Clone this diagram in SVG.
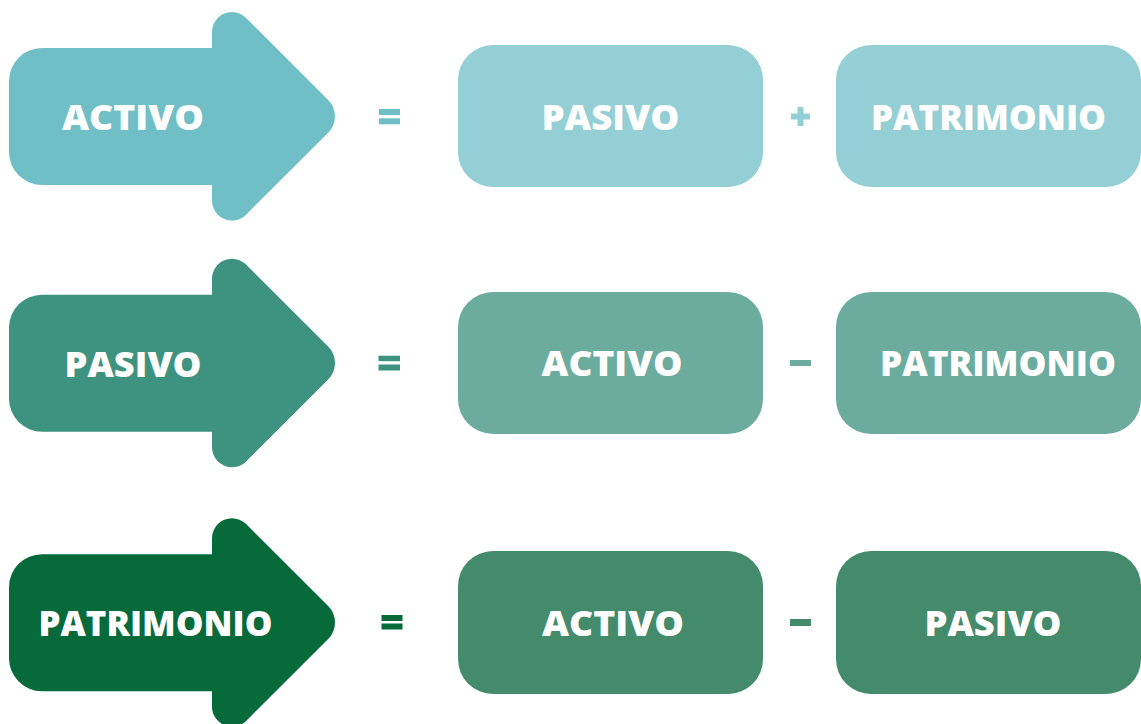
<svg xmlns="http://www.w3.org/2000/svg" width="1141" height="724" viewBox="0 0 1141 724">
<style>
  .lbl { font-family: "Open Sans", "Liberation Sans", sans-serif; font-weight: 800; font-size: 35px; fill: #ffffff; text-anchor: middle; }
  .r1a { fill: #71BFC6; } .r1b { fill: #94CFD6; }
  .r2a { fill: #3D9380; } .r2b { fill: #6BAC9F; }
  .r3a { fill: #076A3B; } .r3b { fill: #438B6B; }
</style>
<defs>
  <path id="arrow" d="M42,48 L212,48 L212,32 A20 20 0 0 1 246.1,17.9 L328.2,99.9 A23.2 23.2 0 0 1 328.2,132.7 L246.1,214.7 A20 20 0 0 1 212,200.6 L212,185 L42,185 A33 33 0 0 1 9,152 L9,81 A33 33 0 0 1 42,48 Z"/>
</defs>

<!-- Row 1 -->
<g id="arrow-activo">
  <use href="#arrow" class="r1a"/>
  <text class="lbl" x="133" y="129.5" textLength="142" lengthAdjust="spacingAndGlyphs">ACTIVO</text>
</g>
<g id="op-eq-1" class="r1a">
  <rect x="379" y="109" width="21" height="6"/>
  <rect x="379" y="118.3" width="21" height="6"/>
</g>
<g id="box-pasivo-1">
  <rect class="r1b" x="458" y="45" width="305" height="142" rx="35"/>
  <text class="lbl" x="610.5" y="129.5" textLength="138" lengthAdjust="spacingAndGlyphs">PASIVO</text>
</g>
<g id="op-plus-1" class="r1b">
  <rect x="791" y="113.5" width="19" height="6"/>
  <rect x="797.5" y="107" width="6" height="19"/>
</g>
<g id="box-patrimonio-1">
  <rect class="r1b" x="836" y="45" width="305" height="142" rx="35"/>
  <text class="lbl" x="988.5" y="129.5" textLength="235" lengthAdjust="spacingAndGlyphs">PATRIMONIO</text>
</g>

<!-- Row 2 -->
<g id="arrow-pasivo">
  <use href="#arrow" class="r2a" transform="translate(0,246.7)"/>
  <text class="lbl" x="133" y="376.5" textLength="137" lengthAdjust="spacingAndGlyphs">PASIVO</text>
</g>
<g id="op-eq-2" class="r2a">
  <rect x="378.5" y="355.7" width="21.5" height="5.5"/>
  <rect x="378.5" y="364.5" width="21.5" height="6"/>
</g>
<g id="box-activo-2">
  <rect class="r2b" x="458" y="292" width="305" height="142" rx="35"/>
  <text class="lbl" x="612" y="376" textLength="141" lengthAdjust="spacingAndGlyphs">ACTIVO</text>
</g>
<g id="op-minus-2" class="r2b">
  <rect x="790" y="360" width="21" height="6"/>
</g>
<g id="box-patrimonio-2">
  <rect class="r2b" x="836" y="292" width="305" height="142" rx="35"/>
  <text class="lbl" x="998" y="376" textLength="236" lengthAdjust="spacingAndGlyphs">PATRIMONIO</text>
</g>

<!-- Row 3 -->
<g id="arrow-patrimonio">
  <use href="#arrow" class="r3a" transform="translate(0,506.2)"/>
  <text class="lbl" x="155.5" y="636" textLength="234" lengthAdjust="spacingAndGlyphs">PATRIMONIO</text>
</g>
<g id="op-eq-3" class="r3a">
  <rect x="381.5" y="615" width="21" height="6"/>
  <rect x="381.5" y="623.5" width="21" height="6"/>
</g>
<g id="box-activo-3">
  <rect class="r3b" x="458" y="551" width="305" height="143" rx="35"/>
  <text class="lbl" x="613" y="635.5" textLength="142" lengthAdjust="spacingAndGlyphs">ACTIVO</text>
</g>
<g id="op-minus-3" class="r3b">
  <rect x="790" y="619" width="21" height="7"/>
</g>
<g id="box-pasivo-3">
  <rect class="r3b" x="836" y="551" width="305" height="143" rx="35"/>
  <text class="lbl" x="993" y="635.5" textLength="137" lengthAdjust="spacingAndGlyphs">PASIVO</text>
</g>
<g id="connectors"></g>
</svg>
